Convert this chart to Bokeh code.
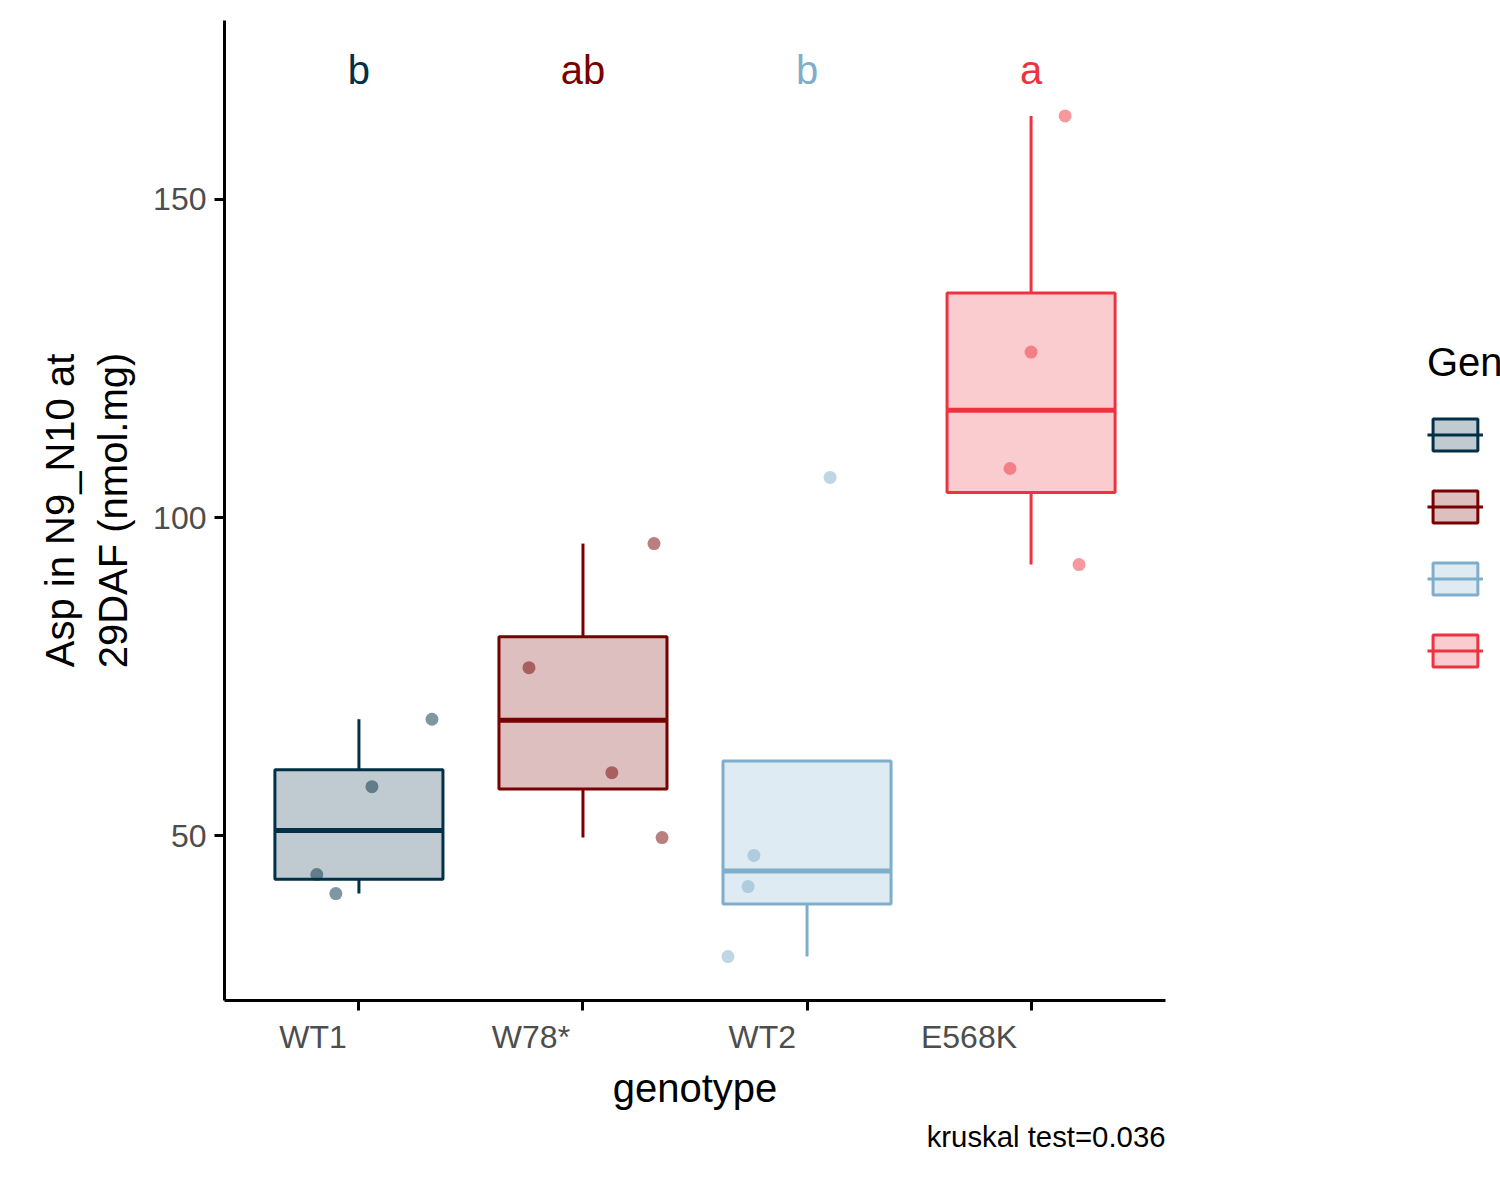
import numpy as np
from bokeh.plotting import figure
from bokeh.models import (Range1d, FixedTicker, LinearAxis, Legend, LegendItem, Title)
from bokeh.core.properties import value
from bokeh.embed import file_html
from bokeh.resources import INLINE

genotypes = ["WT1", "W78*", "WT2", "E568K"]
colors = ["#023047", "#780000", "#7FAECB", "#EE3340"]
letters = ["b", "ab", "b", "a"]
values = {
    "WT1": [68.3, 57.7, 43.9, 40.9],
    "W78*": [95.9, 76.4, 59.9, 49.7],
    "WT2": [106.3, 46.9, 42.0, 31.0],
    "E568K": [163.1, 126.0, 107.7, 92.6],
}
jitter = {
    "WT1": [0.326, 0.058, -0.188, -0.103],
    "W78*": [0.317, -0.241, 0.129, 0.353],
    "WT2": [0.103, -0.237, -0.263, -0.353],
    "E568K": [0.152, 0.0, -0.094, 0.214],
}
# x tick labels are right-aligned at the tick (label centre shift, in category units)
label_shift = [-0.205, -0.232, -0.20, -0.277]
caption = "kruskal test=0.036"
FONT = "Liberation Sans"

p = figure(output_backend="svg", toolbar_location=None,
           frame_width=941, frame_height=980,
           x_range=Range1d(0.4, 4.6), y_range=Range1d(24.1, 178.1),
           min_border_left=224, min_border_top=20, min_border_right=10)
p.xgrid.visible = False
p.ygrid.visible = False
p.outline_line_color = None

for i, g in enumerate(genotypes):
    x = i + 1
    v = np.array(values[g])
    q1, med, q3 = np.percentile(v, [25, 50, 75])
    iqr = q3 - q1
    lo = v[v >= q1 - 1.5 * iqr].min()
    hi = v[v <= q3 + 1.5 * iqr].max()
    c = colors[i]
    if hi > q3:
        p.segment(x0=[x], y0=[q3], x1=[x], y1=[hi], line_color=c, line_width=3)
    if lo < q1:
        p.segment(x0=[x], y0=[lo], x1=[x], y1=[q1], line_color=c, line_width=3)
    p.quad(left=[x - 0.375], right=[x + 0.375], bottom=[q1], top=[q3],
           fill_color=c, fill_alpha=0.25, line_color=c, line_width=3)
    p.segment(x0=[x - 0.375], y0=[med], x1=[x + 0.375], y1=[med], line_color=c, line_width=5)
    p.scatter(x=list(x + np.array(jitter[g])), y=list(v), size=13, fill_color=c,
              line_color=None, fill_alpha=0.5)
    p.text(x=[x], y=[170.3], text=[letters[i]], text_color=c, text_align="center",
           text_baseline="middle", text_font=value(FONT), text_font_size="30pt")

p.xaxis.ticker = FixedTicker(ticks=[1, 2, 3, 4])
p.xaxis.major_label_overrides = {1: "", 2: "", 3: "", 4: ""}
p.xaxis.major_label_standoff = 0

lab_pos = [i + 1 + s for i, s in enumerate(label_shift)]
lab_axis = LinearAxis(ticker=FixedTicker(ticks=lab_pos),
                      major_label_overrides={pos: g for pos, g in zip(lab_pos, genotypes)},
                      axis_line_color=None, major_tick_line_color=None,
                      minor_tick_line_color=None, major_label_standoff=2,
                      axis_label="genotype", axis_label_standoff=8)
p.add_layout(lab_axis, "below")

p.yaxis.ticker = FixedTicker(ticks=[50, 100, 150])
p.yaxis.axis_label = "Asp in N9_N10 at\n29DAF (nmol.mg)"
for ax in (p.xaxis[0], p.yaxis[0], lab_axis):
    ax.major_label_text_font = FONT
    ax.major_label_text_font_size = "24pt"
    ax.major_label_text_color = "#4D4D4D"
    ax.axis_label_text_font = FONT
    ax.axis_label_text_font_size = "30pt"
    ax.axis_label_text_font_style = "normal"
    ax.axis_label_text_color = "black"
for ax in (p.xaxis[0], p.yaxis[0]):
    ax.axis_line_width = 3
    ax.axis_line_color = "black"
    ax.major_tick_line_width = 3
    ax.major_tick_line_color = "black"
    ax.major_tick_out = 10
    ax.major_tick_in = 0
    ax.minor_tick_line_color = None
p.yaxis.major_label_standoff = 8
p.yaxis.axis_label_standoff = 15

items = []
for i, g in enumerate(genotypes):
    c = colors[i]
    r1 = p.quad(left=[0], right=[0], bottom=[0], top=[0], fill_color=c, fill_alpha=0.25,
                line_color=c, line_width=3, visible=False)
    r2 = p.segment(x0=[0], y0=[0], x1=[0], y1=[0], line_color=c, line_width=3, visible=False)
    items.append(LegendItem(label=g, renderers=[r1, r2]))
legend = Legend(items=items, title="Genotype", location="center",
                title_text_font=FONT, title_text_font_size="30pt", title_text_font_style="normal",
                title_text_color="black",
                label_text_font=FONT, label_text_font_size="24pt",
                glyph_width=56, glyph_height=40, label_height=60, spacing=12,
                border_line_color=None, background_fill_alpha=0, margin=40, padding=10,
                label_standoff=30, title_standoff=20)
p.add_layout(legend, "right")

cap = Title(text=caption, align="right", text_font=FONT, text_font_size="22pt",
            text_font_style="normal", text_color="black", offset=0, standoff=10)
p.add_layout(cap, "below")

open("out.html", "w").write(file_html(p, INLINE))
